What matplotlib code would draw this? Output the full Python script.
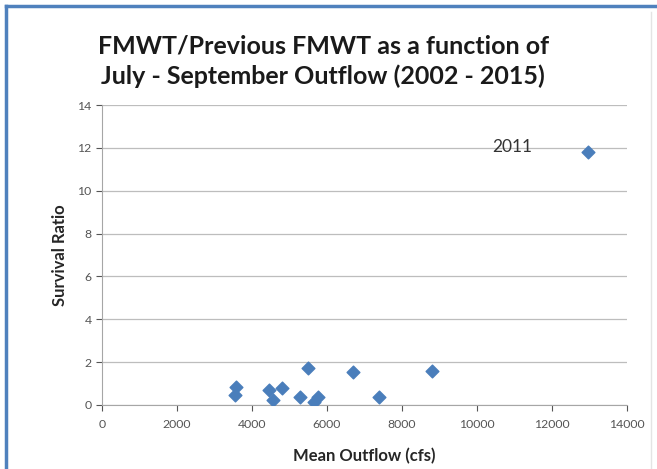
import matplotlib
matplotlib.use("Agg")
import matplotlib.pyplot as plt
from matplotlib.lines import Line2D

# Mean July-September outflow (cfs) and FMWT survival ratio, 2003-2015
outflow = [3570, 3550, 4460, 4790, 4570, 5500, 5280, 5660, 5770, 6700, 7395, 8790, 12950]
survival_ratio = [0.85, 0.47, 0.70, 0.78, 0.23, 1.71, 0.39, 0.16, 0.39, 1.52, 0.36, 1.59, 11.79]

x_ticks = [0, 2000, 4000, 6000, 8000, 10000, 12000, 14000]
y_ticks = [0, 2, 4, 6, 8, 10, 12, 14]

plt.rcParams["font.family"] = ["Lato", "DejaVu Sans"]

fig = plt.figure(figsize=(6.57, 4.69), dpi=100)
ax = fig.add_axes([0.1553, 0.1365, 0.799, 0.6396])

ax.scatter(outflow, survival_ratio, marker="D", s=42, color="#4A7EBB", zorder=3)
ax.text(10930, 12.05, "2011", fontsize=12.5, color="#333333", ha="center", va="center")

ax.set_xlim(0, 14000)
ax.set_ylim(0, 14)
ax.set_xticks(x_ticks)
ax.set_yticks(y_ticks)
ax.tick_params(axis="both", labelsize=8.8, colors="#555555", length=4, width=0.8)
ax.tick_params(axis="x", pad=6)
ax.grid(axis="y", color="#BDBDBD", linewidth=0.9)
ax.set_axisbelow(True)
for side in ["top", "right"]:
    ax.spines[side].set_visible(False)
ax.spines["left"].set_color("#A6A6A6")
ax.spines["bottom"].set_color("#A6A6A6")

ax.set_xlabel("Mean Outflow (cfs)", fontsize=12, fontweight="bold", color="#262626", labelpad=13)
ax.set_ylabel("Survival Ratio", fontsize=12, fontweight="bold", color="#262626", labelpad=7)

fig.text(0.492, 0.869, "FMWT/Previous FMWT as a function of\nJuly - September Outflow (2002 - 2015)",
         ha="center", va="center", fontsize=18, fontweight="bold", color="#1a1a1a", linespacing=1.33)

# blue frame at top and left like the original chart border
fig.add_artist(Line2D([0.009, 1.0], [0.987, 0.987], transform=fig.transFigure, color="#4F81BD", linewidth=2.5))
fig.add_artist(Line2D([0.009, 0.009], [0.0, 0.987], transform=fig.transFigure, color="#4F81BD", linewidth=2.5))
fig.add_artist(Line2D([0.991, 0.991], [0.0, 0.975], transform=fig.transFigure, color="#E4E4E4", linewidth=1))

fig.savefig("out.png", dpi=100)
